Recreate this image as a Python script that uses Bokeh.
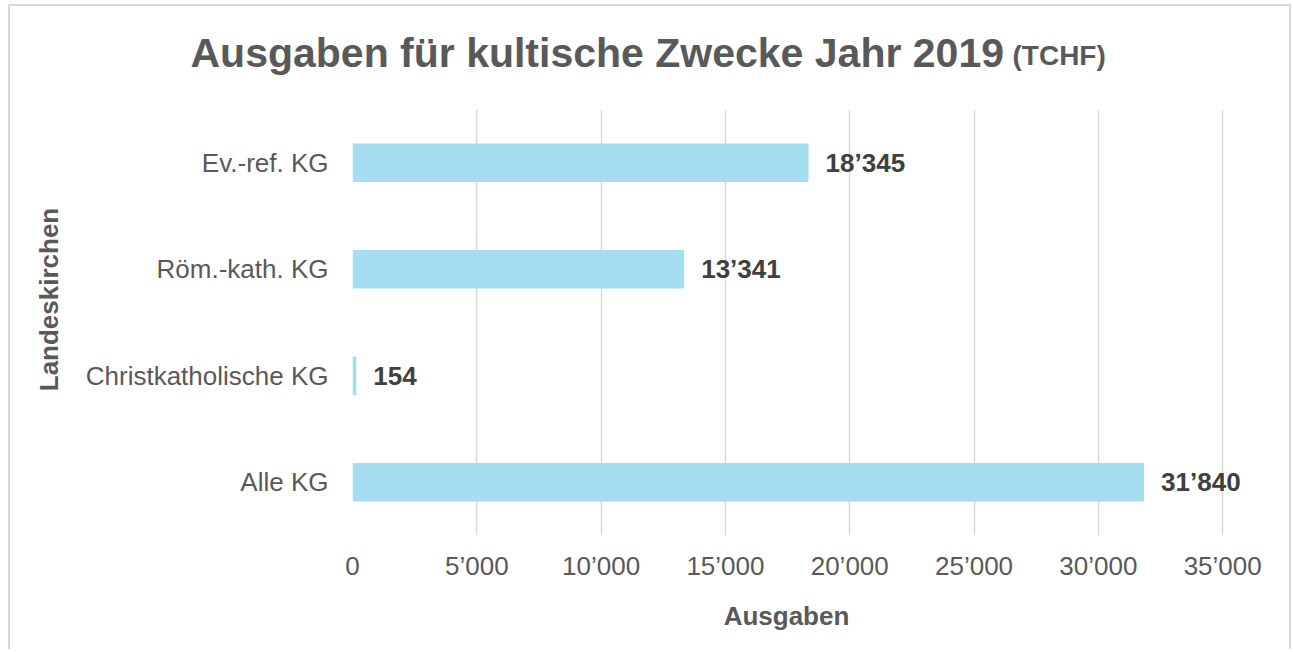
import math
from bokeh.plotting import figure
from bokeh.models import Range1d, FactorRange, Label, ColumnDataSource, LabelSet, CustomJSTickFormatter, FixedTicker
from bokeh.core.properties import value
from bokeh.embed import file_html
from bokeh.resources import INLINE

categories = ["Ev.-ref. KG", "Röm.-kath. KG", "Christkatholische KG", "Alle KG"]
values = [18345, 13341, 154, 31840]
value_labels = ["18’345", "13’341", "154", "31’840"]
x_ticks = [0, 5000, 10000, 15000, 20000, 25000, 30000, 35000]

FONT = "Liberation Sans"
GRAY = "#595959"
BORDER = "2px solid #d9d9d9"

src = ColumnDataSource(dict(cat=categories, val=values, lab=value_labels))

p = figure(width=1283, height=645, output_backend="svg", toolbar_location=None,
           y_range=FactorRange(*categories[::-1], range_padding=0),
           x_range=Range1d(0, 36200),
           min_border_left=342, min_border_right=41, min_border_top=103, min_border_bottom=116)
p.styles = {"margin-left": "8px", "margin-top": "4px", "border-top": BORDER,
            "border-left": BORDER, "border-right": BORDER}

p.hbar(y="cat", right="val", left=0, height=0.36, source=src, color="#A5DEF1", line_color=None)
p.add_layout(LabelSet(x="val", y="cat", text="lab", source=src, x_offset=17,
                      text_font=value(FONT), text_font_size="26px", text_font_style="bold",
                      text_color="#404040", text_baseline="middle"))

p.outline_line_color = None
p.ygrid.grid_line_color = None
p.xgrid.grid_line_color = "#d9d9d9"
p.xgrid.grid_line_width = 1.5
p.xaxis.ticker = FixedTicker(ticks=x_ticks)
p.xaxis.formatter = CustomJSTickFormatter(code="return tick.toString().replace(/\\B(?=(\\d{3})+(?!\\d))/g, '’');")

for ax in (p.xaxis[0], p.yaxis[0]):
    ax.axis_line_color = None
    ax.major_tick_line_color = None
    ax.minor_tick_line_color = None
    ax.major_tick_out = 0
    ax.major_tick_in = 0
    ax.major_label_text_font = FONT
    ax.major_label_text_font_size = "26px"
    ax.major_label_text_color = GRAY

p.xaxis.major_label_standoff = 15
p.yaxis.major_label_standoff = 24

def lab(text, size, **kw):
    return Label(x_units="screen", y_units="screen", text=text, text_font=FONT,
                 text_font_size=size, text_font_style="bold", text_color=GRAY, **kw)

p.add_layout(lab("Ausgaben für kultische Zwecke Jahr 2019", "41px", x=-162, y=57,
                 text_baseline="alphabetic"), "above")
p.add_layout(lab("(TCHF)", "28px", x=660, y=8, text_baseline="alphabetic"), "above")
p.add_layout(lab("Landeskirchen", "26px", x=-4, y=236, angle=math.pi / 2,
                 text_align="center", text_baseline="alphabetic"), "left")
p.add_layout(lab("Ausgaben", "26px", x=434, y=-2, text_align="center",
                 text_baseline="alphabetic"), "below")

open("out.html", "w").write(file_html(p, INLINE))
